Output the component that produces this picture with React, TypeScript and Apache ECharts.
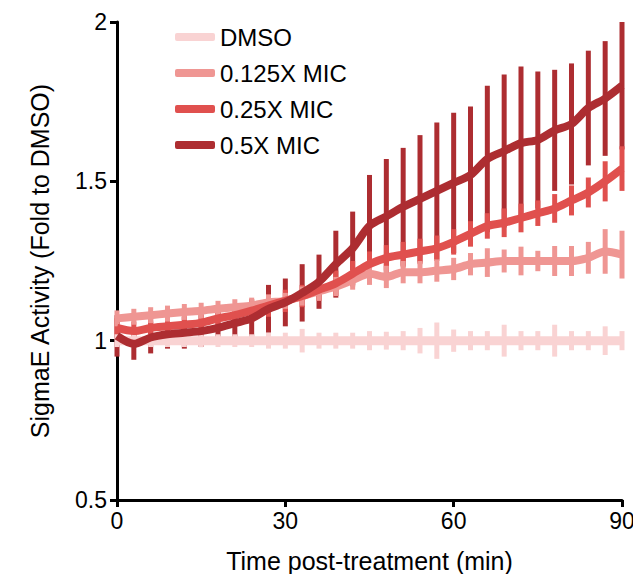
import React, { useEffect, useRef } from "react";
import * as echarts from "echarts";

const times = [0, 3, 6, 9, 12, 15, 18, 21, 24, 27, 30, 33, 36, 39, 42, 45, 48, 51, 54, 57, 60, 63, 66, 69, 72, 75, 78, 81, 84, 87, 90];

const seriesNames = ["DMSO", "0.125X MIC", "0.25X MIC", "0.5X MIC"];
const seriesColors = ["#f9d3d3", "#ef9693", "#e0504e", "#ad2d31"];

const dmso = [1, 1, 1, 1, 1, 1, 1, 1, 1, 1, 1, 1, 1, 1, 1, 1, 1, 1, 1, 1, 1, 1, 1, 1, 1, 1, 1, 1, 1, 1, 1];
const dmsoErr = [0.02, 0.02, 0.02, 0.02, 0.02, 0.02, 0.02, 0.02, 0.02, 0.025, 0.025, 0.037, 0.025, 0.025, 0.025, 0.03, 0.028, 0.03, 0.04, 0.057, 0.035, 0.03, 0.03, 0.05, 0.03, 0.03, 0.05, 0.03, 0.03, 0.045, 0.03];

const mic0125 = [1.07, 1.075, 1.08, 1.085, 1.09, 1.094, 1.1, 1.105, 1.11, 1.12, 1.125, 1.14, 1.155, 1.17, 1.19, 1.21, 1.2, 1.215, 1.215, 1.22, 1.225, 1.24, 1.245, 1.25, 1.25, 1.25, 1.25, 1.25, 1.26, 1.28, 1.27];
const mic0125Err = [0.025, 0.025, 0.025, 0.025, 0.025, 0.025, 0.025, 0.025, 0.025, 0.025, 0.025, 0.03, 0.03, 0.03, 0.03, 0.035, 0.035, 0.035, 0.035, 0.035, 0.035, 0.035, 0.045, 0.036, 0.045, 0.032, 0.047, 0.047, 0.05, 0.07, 0.075];

const mic025 = [1.04, 1.03, 1.04, 1.045, 1.05, 1.056, 1.07, 1.08, 1.094, 1.11, 1.125, 1.14, 1.16, 1.18, 1.21, 1.24, 1.26, 1.27, 1.28, 1.29, 1.31, 1.335, 1.36, 1.37, 1.385, 1.4, 1.415, 1.44, 1.465, 1.5, 1.54];
const mic025Err = [0.03, 0.03, 0.03, 0.03, 0.03, 0.03, 0.03, 0.03, 0.035, 0.035, 0.035, 0.035, 0.035, 0.04, 0.04, 0.04, 0.04, 0.04, 0.04, 0.04, 0.04, 0.04, 0.04, 0.045, 0.045, 0.04, 0.045, 0.047, 0.047, 0.063, 0.07];

const mic05 = [1.015, 0.99, 1.01, 1.02, 1.025, 1.03, 1.04, 1.055, 1.07, 1.1, 1.12, 1.15, 1.185, 1.24, 1.29, 1.36, 1.39, 1.42, 1.445, 1.47, 1.495, 1.52, 1.57, 1.595, 1.62, 1.63, 1.66, 1.68, 1.73, 1.76, 1.8];
const mic05Err = [0.065, 0.05, 0.05, 0.045, 0.05, 0.05, 0.05, 0.055, 0.06, 0.075, 0.075, 0.09, 0.085, 0.105, 0.115, 0.16, 0.18, 0.185, 0.2, 0.215, 0.22, 0.215, 0.23, 0.24, 0.24, 0.215, 0.19, 0.19, 0.18, 0.18, 0.2];

const xTicks = { min: 0, max: 90, interval: 30 };
const yTicks = { min: 0.5, max: 2, interval: 0.5 };

const FONT = "'Liberation Sans', Arial, sans-serif";

export default function App() {
  const ref = useRef<HTMLDivElement>(null);

  useEffect(() => {
    if (!ref.current) return;
    const chart = echarts.init(ref.current, null, { renderer: "svg" });

    const values = [dmso, mic0125, mic025, mic05];
    const errs = [dmsoErr, mic0125Err, mic025Err, mic05Err];

    const errSeries = (idx: number) => ({
      type: "custom",
      name: seriesNames[idx] + " err",
      silent: true,
      renderItem: (params: any, api: any) => {
        const x = api.value(0);
        const lo = api.coord([x, api.value(1)]);
        const hi = api.coord([x, api.value(2)]);
        return {
          type: "line",
          shape: { x1: lo[0], y1: lo[1], x2: hi[0], y2: hi[1] },
          style: { stroke: seriesColors[idx], lineWidth: 5 },
        };
      },
      encode: { x: 0, y: [1, 2] },
      data: times.map((t, i) => [t, values[idx][i] - errs[idx][i], values[idx][i] + errs[idx][i]]),
    });

    const lineSeries = (idx: number) => ({
      type: "line",
      name: seriesNames[idx],
      data: times.map((t, i) => [t, values[idx][i]]),
      showSymbol: false,
      smooth: 0.3,
      color: seriesColors[idx],
      lineStyle: { width: idx === 0 ? 9 : 8, color: seriesColors[idx], cap: "butt" },
    });

    chart.setOption({
      animation: false,
      textStyle: { fontFamily: FONT },
      grid: { left: 117, right: 19, top: 22, bottom: 82, containLabel: false },
      legend: {
        data: seriesNames,
        orient: "vertical",
        left: 175,
        top: 25,
        padding: 0,
        itemGap: 12,
        itemWidth: 40,
        itemHeight: 8,
        icon: "roundRect",
        textStyle: { fontSize: 24, color: "#000", fontFamily: FONT },
      },
      xAxis: {
        type: "value",
        min: xTicks.min,
        max: xTicks.max,
        interval: xTicks.interval,
        name: "Time post-treatment (min)",
        nameLocation: "middle",
        nameGap: 48,
        nameTextStyle: { fontSize: 25, color: "#000", fontFamily: FONT },
        axisLine: { show: true, lineStyle: { color: "#000", width: 3 } },
        axisTick: { show: true, length: 7, lineStyle: { color: "#000", width: 3 } },
        axisLabel: { fontSize: 23, color: "#000", margin: 9, fontFamily: FONT },
        splitLine: { show: false },
      },
      yAxis: {
        type: "value",
        min: yTicks.min,
        max: yTicks.max,
        interval: yTicks.interval,
        name: "SigmaE Activity (Fold to DMSO)",
        nameLocation: "middle",
        nameGap: 65,
        nameTextStyle: { fontSize: 25, color: "#000", fontFamily: FONT },
        axisLine: { show: true, lineStyle: { color: "#000", width: 3 } },
        axisTick: { show: true, length: 7, lineStyle: { color: "#000", width: 3 } },
        axisLabel: { fontSize: 23, color: "#000", margin: 10, fontFamily: FONT },
        splitLine: { show: false },
      },
      series: [
        errSeries(3),
        errSeries(2),
        errSeries(1),
        errSeries(0),
        lineSeries(0),
        lineSeries(1),
        lineSeries(2),
        lineSeries(3),
      ],
    });

    return () => chart.dispose();
  }, []);

  return <div ref={ref} style={{ width: 641, height: 582, margin: -8 }} />;
}
